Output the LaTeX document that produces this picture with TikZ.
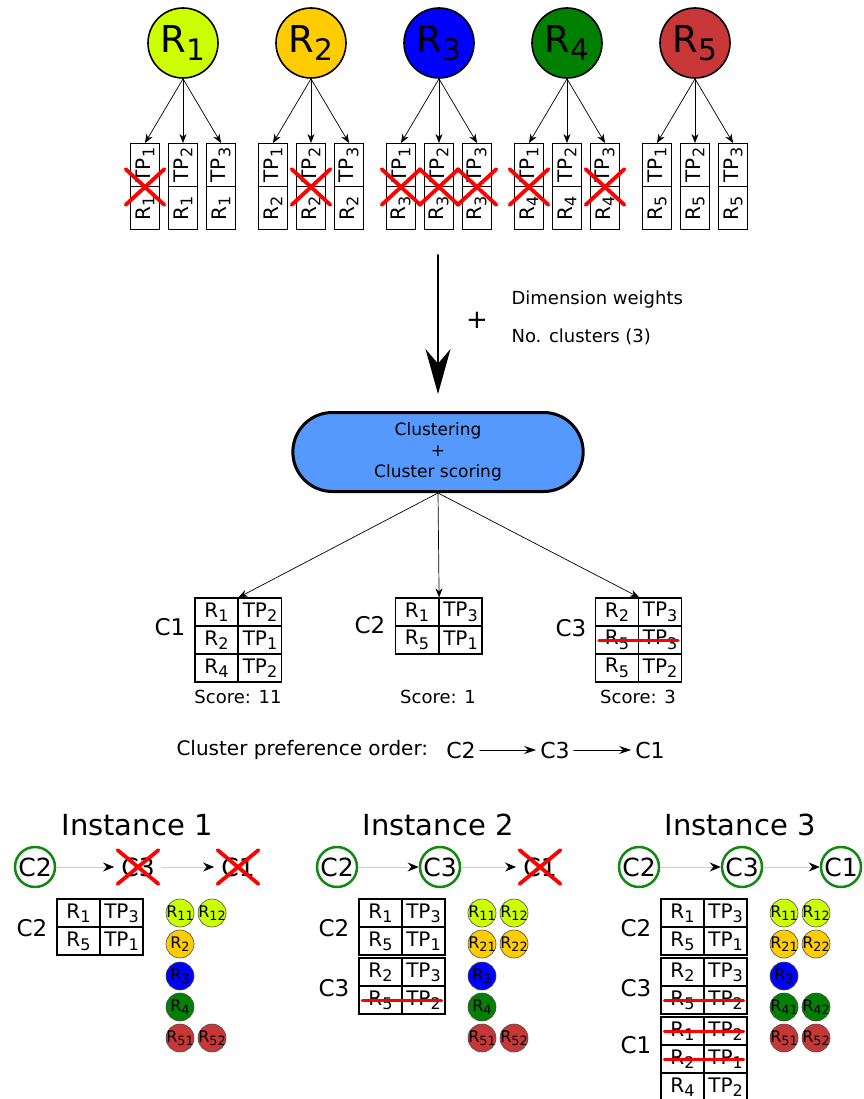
\documentclass[tikz,border=0pt]{standalone}
\usepackage{fontspec}
\setmainfont{DejaVu Sans}
\usetikzlibrary{arrows.meta}
\usetikzlibrary{shapes.misc}

\newcommand{\idx}[1]{\raisebox{-0.4ex}{\scalebox{0.8}{#1}}}
\newcommand{\fsz}[1]{\fontsize{#1}{#1}\selectfont}

\begin{document}
\begin{tikzpicture}[x=1pt,y=-1pt,>=Stealth,line cap=round,
  rcirc/.style={circle,draw,line width=1.6pt,minimum size=70pt,inner sep=0pt,font=\fsz{37}},
  tphalf/.style={draw,line width=1pt,rotate=90,minimum width=43pt,minimum height=29pt,inner sep=0pt,font=\fsz{20}},
  xmark/.style={cross out,draw=red,line width=3.8pt,minimum width=35pt,minimum height=32pt,inner sep=0pt},
  hdrx/.style={minimum width=37pt,minimum height=30pt},
  feed/.style={-{Stealth[length=9pt,width=7pt]},line width=0.7pt},
  bigflow/.style={-{Stealth[length=45pt,width=25pt]},line width=2pt,shorten >=17pt},
  proc/.style={rounded rectangle,draw,line width=3pt,fill=cluscol,minimum width=297pt,minimum height=79pt,align=center,font=\fontsize{17}{21}\selectfont},
  sidetext/.style={anchor=west,font=\fsz{18}},
  cell/.style={draw,line width=1.2pt,minimum width=43pt,minimum height=28pt,inner sep=0pt,font=\fsz{20}},
  strike/.style={red,line width=3pt,shorten <=4pt,shorten >=4pt},
  clname/.style={font=\fsz{23}},
  scoretext/.style={font=\fsz{18}},
  prefc/.style={inner sep=4pt,font=\fsz{22}},
  prefarrow/.style={-{Stealth[length=12pt,width=8pt]},line width=1pt},
  titletext/.style={font=\fsz{29}},
  hdr/.style={circle,draw=okgreen,line width=2.5pt,minimum size=40pt,inner sep=0pt,font=\fsz{25}},
  hdrtext/.style={inner sep=7pt,font=\fsz{25}},
  hdrarrow/.style={draw=black!20,line width=1pt,-{Stealth[length=11pt,width=9pt,color=black]}},
  rdot/.style={circle,draw=black!70,line width=0.6pt,minimum size=28pt,inner sep=-2pt,font=\fsz{16}}]
 \definecolor{rcol1}{HTML}{CCFF00}
 \definecolor{rcol2}{HTML}{FFCC00}
 \definecolor{rcol3}{HTML}{0000FF}
 \definecolor{rcol4}{HTML}{008000}
 \definecolor{rcol5}{HTML}{C83737}
 \definecolor{cluscol}{HTML}{5599FF}
 \definecolor{okgreen}{HTML}{118811}

 \useasboundingbox (0,0) rectangle (863,1099);

 % resources and their time points
 \foreach \i/\cx in {1/183,2/311,3/439,4/567,5/695} {
   \node[rcirc,fill=rcol\i] (r\i) at (\cx,43) {R\idx{\i}};
   \foreach \j/\dx in {1/-38,2/0,3/38} {
     \node[tphalf] (tp-\i-\j) at (\cx+\dx,165) {TP\idx{\j}};
     \node[tphalf] (rb-\i-\j) at (\cx+\dx,208) {R\idx{\i}};
     \draw[feed] (r\i.south) -- (tp-\i-\j.east);
   }
 }
 \foreach \i/\j in {1/1,2/2,3/1,3/2,3/3,4/1,4/3}
   \node[xmark] (x-\i-\j) at (tp-\i-\j.west) {};

 % clustering step
 \coordinate (inflow) at (438,255);
 \node[proc] (clus) at (438,452) {Clustering\\+\\Cluster scoring};
 \draw[bigflow] (inflow) -- (clus.north);
 \node[font=\fsz{26}] (plus) at (477,320) {+};
 \node[sidetext] (dimw) at (508,300) {Dimension weights};
 \node[sidetext] (ncl) at (508,337) {No. clusters (3)};

 % clusters
 \node[clname] (n1) at (170,627) {C1};
 \foreach \a/\b [count=\k] in {1/2,2/1,4/2} {
   \node[cell] (t1-\k-l) at (216.5,584+28*\k) {R\idx{\a}};
   \node[cell] (t1-\k-r) at (260,584+28*\k) {TP\idx{\b}};
 }
 \node[clname] (n2) at (370,625) {C2};
 \foreach \a/\b [count=\k] in {1/3,5/1} {
   \node[cell] (t2-\k-l) at (417,584+28*\k) {R\idx{\a}};
   \node[cell] (t2-\k-r) at (460.5,584+28*\k) {TP\idx{\b}};
 }
 \node[clname] (n3) at (571,628) {C3};
 \foreach \a/\b [count=\k] in {2/3,5/3,5/2} {
   \node[cell] (t3-\k-l) at (617,584+28*\k) {R\idx{\a}};
   \node[cell] (t3-\k-r) at (660,584+28*\k) {TP\idx{\b}};
 }
 \draw[strike] (t3-2-l.west) -- (t3-2-r.east);
 \draw[feed] (clus.south) -- (t1-1-l.north east);
 \draw[feed] (clus.south) -- (t2-1-l.north east);
 \draw[feed] (clus.south) -- (t3-1-l.north east);
 \node[scoretext] (s1) at (238,697) {Score: 11};
 \node[scoretext] (s2) at (438,697) {Score: 1};
 \node[scoretext] (s3) at (638,697) {Score: 3};

 \node[font=\fsz{20},anchor=west] (pref) at (173,750) {Cluster preference order:};
 \node[prefc] (p2) at (461,750) {C2};
 \node[prefc] (p3) at (555,750) {C3};
 \node[prefc] (p1) at (650,750) {C1};
 \draw[prefarrow] (p2) -- (p3);
 \draw[prefarrow] (p3) -- (p1);

 % instance 1
 \begin{scope}
 \node[titletext] (i1-title) at (137,825) {Instance 1};
 \node[hdr] (i1-c2) at (35,867) {C2};
 \node[hdrtext] (i1-c3) at (138,867) {C3};
 \node[hdrtext] (i1-c1) at (238,867) {C1};
 \draw[hdrarrow] (i1-c2) -- (i1-c3);
 \draw[hdrarrow] (i1-c3) -- (i1-c1);
 \node[xmark,hdrx] (i1-x3) at (i1-c3) {};
 \node[xmark,hdrx] (i1-x1) at (i1-c1) {};
 \node[clname] (i1-n2) at (32,928) {C2};
 \foreach \a/\b [count=\k] in {1/3,5/1} {
   \node[cell] (i1-t2-\k-l) at (78.5,885+28*\k) {R\idx{\a}};
   \node[cell] (i1-t2-\k-r) at (121.5,885+28*\k) {TP\idx{\b}};
 }
 \foreach \t/\c/\x/\y in {11/1/180/913,12/1/212/913,2/2/180/944,3/3/180/976,4/4/180/1007,51/5/180/1038,52/5/212/1038}
   \node[rdot,fill=rcol\c] (i1-d\t) at (\x,\y) {R\idx{\t}};
 \end{scope}

 % instance 2
 \begin{scope}[xshift=302pt]
 \node[titletext] (i2-title) at (136,825) {Instance 2};
 \node[hdr] (i2-c2) at (35,867) {C2};
 \node[hdr] (i2-c3) at (138,867) {C3};
 \node[hdrtext] (i2-c1) at (238,867) {C1};
 \draw[hdrarrow] (i2-c2) -- (i2-c3);
 \draw[hdrarrow] (i2-c3) -- (i2-c1);
 \node[xmark,hdrx] (i2-x1) at (i2-c1) {};
 \node[clname] (i2-n2) at (32,928) {C2};
 \foreach \a/\b [count=\k] in {1/3,5/1} {
   \node[cell] (i2-t2-\k-l) at (78.5,885+28*\k) {R\idx{\a}};
   \node[cell] (i2-t2-\k-r) at (121.5,885+28*\k) {TP\idx{\b}};
 }
 \node[clname] (i2-n3) at (32,988) {C3};
 \foreach \a/\b [count=\k] in {2/3,5/2} {
   \node[cell] (i2-t3-\k-l) at (78.5,944+28*\k) {R\idx{\a}};
   \node[cell] (i2-t3-\k-r) at (121.5,944+28*\k) {TP\idx{\b}};
 }
 \draw[strike] (i2-t3-2-l.west) -- (i2-t3-2-r.east);
 \foreach \t/\c/\x/\y in {11/1/180/913,12/1/212/913,21/2/180/944,22/2/212/944,3/3/180/976,4/4/180/1007,51/5/180/1038,52/5/212/1038}
   \node[rdot,fill=rcol\c] (i2-d\t) at (\x,\y) {R\idx{\t}};
 \end{scope}

 % instance 3
 \begin{scope}[xshift=604pt]
 \node[titletext] (i3-title) at (136,825) {Instance 3};
 \node[hdr] (i3-c2) at (35,867) {C2};
 \node[hdr] (i3-c3) at (138,867) {C3};
 \node[hdr] (i3-c1) at (237,867) {C1};
 \draw[hdrarrow] (i3-c2) -- (i3-c3);
 \draw[hdrarrow] (i3-c3) -- (i3-c1);
 \node[clname] (i3-n2) at (32,928) {C2};
 \foreach \a/\b [count=\k] in {1/3,5/1} {
   \node[cell] (i3-t2-\k-l) at (78.5,885+28*\k) {R\idx{\a}};
   \node[cell] (i3-t2-\k-r) at (121.5,885+28*\k) {TP\idx{\b}};
 }
 \node[clname] (i3-n3) at (32,988) {C3};
 \foreach \a/\b [count=\k] in {2/3,5/2} {
   \node[cell] (i3-t3-\k-l) at (78.5,944+28*\k) {R\idx{\a}};
   \node[cell] (i3-t3-\k-r) at (121.5,944+28*\k) {TP\idx{\b}};
 }
 \node[clname] (i3-n1) at (32,1045) {C1};
 \foreach \a/\b [count=\k] in {1/2,2/1,4/2} {
   \node[cell] (i3-t1-\k-l) at (78.5,1003+28*\k) {R\idx{\a}};
   \node[cell] (i3-t1-\k-r) at (121.5,1003+28*\k) {TP\idx{\b}};
 }
 \draw[strike] (i3-t3-2-l.west) -- (i3-t3-2-r.east);
 \draw[strike] (i3-t1-1-l.west) -- (i3-t1-1-r.east);
 \draw[strike] (i3-t1-2-l.west) -- (i3-t1-2-r.east);
 \foreach \t/\c/\x/\y in {11/1/180/913,12/1/212/913,21/2/180/944,22/2/212/944,3/3/180/976,41/4/180/1007,42/4/212/1007,51/5/180/1038,52/5/212/1038}
   \node[rdot,fill=rcol\c] (i3-d\t) at (\x,\y) {R\idx{\t}};
 \end{scope}
\end{tikzpicture}
\end{document}
